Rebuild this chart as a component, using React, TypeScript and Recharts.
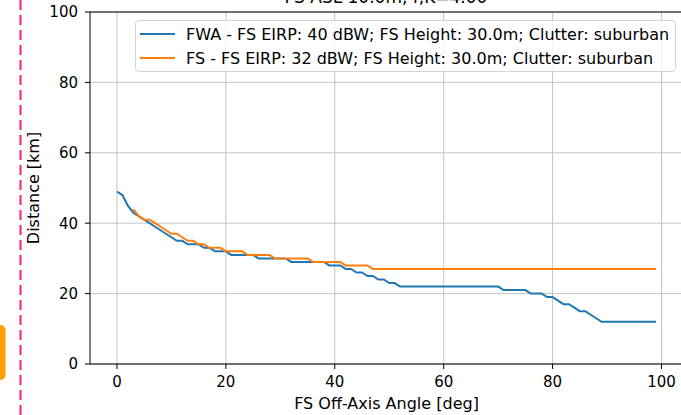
import {
  LineChart,
  Line,
  XAxis,
  YAxis,
  CartesianGrid,
  Legend,
  ReferenceLine,
} from 'recharts';

const angles = [
  0, 1, 2, 3, 4, 5, 6, 7, 8, 9, 10, 11, 12, 13, 14, 15, 16, 17, 18, 19,
  20, 21, 22, 23, 24, 25, 26, 27, 28, 29, 30, 31, 32, 33, 34, 35, 36, 37, 38, 39,
  40, 41, 42, 43, 44, 45, 46, 47, 48, 49, 50, 51, 52, 53, 54, 55, 56, 57, 58, 59,
  60, 61, 62, 63, 64, 65, 66, 67, 68, 69, 70, 71, 72, 73, 74, 75, 76, 77, 78, 79,
  80, 81, 82, 83, 84, 85, 86, 87, 88, 89, 90, 91, 92, 93, 94, 95, 96, 97, 98, 99,
];

const fwaDistance = [
  49, 48, 45, 43, 42, 41, 40, 39, 38, 37,
  36, 35, 35, 34, 34, 34, 33, 33, 32, 32,
  32, 31, 31, 31, 31, 31, 30, 30, 30, 30,
  30, 30, 29, 29, 29, 29, 29, 29, 29, 28,
  28, 28, 27, 27, 26, 26, 25, 25, 24, 24,
  23, 23, 22, 22, 22, 22, 22, 22, 22, 22,
  22, 22, 22, 22, 22, 22, 22, 22, 22, 22,
  22, 21, 21, 21, 21, 21, 20, 20, 20, 19,
  19, 18, 17, 17, 16, 15, 15, 14, 13, 12,
  12, 12, 12, 12, 12, 12, 12, 12, 12, 12,
];

const fsDistance = [
  null, null, null, 44, 42, 41, 41, 40, 39, 38,
  37, 37, 36, 35, 35, 34, 34, 33, 33, 33,
  32, 32, 32, 32, 31, 31, 31, 31, 31, 30,
  30, 30, 30, 30, 30, 30, 29, 29, 29, 29,
  29, 29, 28, 28, 28, 28, 28, 27, 27, 27,
  27, 27, 27, 27, 27, 27, 27, 27, 27, 27,
  27, 27, 27, 27, 27, 27, 27, 27, 27, 27,
  27, 27, 27, 27, 27, 27, 27, 27, 27, 27,
  27, 27, 27, 27, 27, 27, 27, 27, 27, 27,
  27, 27, 27, 27, 27, 27, 27, 27, 27, 27,
];

const xTicks = [0, 20, 40, 60, 80, 100];
const yTicks = [0, 20, 40, 60, 80, 100];

const series = [
  { key: 'fwa', color: '#1f77b4', label: 'FWA - FS EIRP: 40 dBW; FS Height: 30.0m; Clutter: suburban' },
  { key: 'fs', color: '#ff7f0e', label: 'FS - FS EIRP: 32 dBW; FS Height: 30.0m; Clutter: suburban' },
];

const data = angles.map((a, i) => ({ angle: a, fwa: fwaDistance[i], fs: fsDistance[i] }));

const FONT = '"DejaVu Sans", sans-serif';
const tick = { fontSize: 15, fill: '#000', fontFamily: FONT };
const labelStyle = { fontSize: 16, fill: '#000', fontFamily: FONT };

function LegendBox() {
  return (
    <div
      style={{
        boxSizing: 'border-box',
        height: 52,
        border: '1px solid #d4d4d4',
        borderRadius: 4,
        background: 'rgba(255,255,255,0.8)',
        padding: '1px 6px 1px 4px',
        fontFamily: FONT,
        fontSize: 16,
        color: '#000',
        whiteSpace: 'nowrap',
      }}
    >
      {series.map((s) => (
        <div key={s.key} style={{ display: 'flex', alignItems: 'center', height: 24 }}>
          <svg width={35} height={4} style={{ marginRight: 11, flexShrink: 0 }}>
            <line x1={0} y1={2} x2={35} y2={2} stroke={s.color} strokeWidth={2} />
          </svg>
          <span>{s.label}</span>
        </div>
      ))}
    </div>
  );
}

export default function App() {
  return (
    <div style={{ position: 'fixed', left: 0, top: 0, width: 681, height: 415, overflow: 'hidden', background: '#fff' }}>
      <LineChart width={720} height={415} data={data} margin={{ top: 12, right: 37, bottom: 0, left: 0 }}>
        <CartesianGrid stroke="#c4c4c4" strokeWidth={1} horizontalValues={yTicks} verticalValues={xTicks} />
        <XAxis
          dataKey="angle"
          type="number"
          domain={[-4.95, 103.95]}
          ticks={xTicks}
          height={51}
          tick={tick}
          tickSize={5}
          tickMargin={7}
          stroke="#000"
          allowDataOverflow
          label={{ value: 'FS Off-Axis Angle [deg]', position: 'insideBottom', offset: 6, style: labelStyle }}
        />
        <YAxis
          type="number"
          domain={[0, 100]}
          ticks={yTicks}
          width={90}
          tick={tick}
          tickSize={5}
          tickMargin={7}
          stroke="#000"
          allowDataOverflow
          label={{ value: 'Distance [km]', angle: -90, position: 'insideLeft', offset: 33, style: { ...labelStyle, textAnchor: 'middle' } }}
        />
        <ReferenceLine y={100} stroke="#000" strokeWidth={1} />
        <ReferenceLine x={103.95} stroke="#000" strokeWidth={1} />
        {series.map((s) => (
          <Line
            key={s.key}
            type="linear"
            dataKey={s.key}
            stroke={s.color}
            strokeWidth={2}
            dot={false}
            name={s.label}
            isAnimationActive={false}
          />
        ))}
        <Legend
          layout="vertical"
          align="center"
          verticalAlign="middle"
          content={() => <LegendBox />}
          wrapperStyle={{ position: 'absolute', top: 20, left: 135, width: 541 }}
        />
      </LineChart>
      <svg width={681} height={415} style={{ position: 'absolute', left: 0, top: 0, pointerEvents: 'none' }}>
        <line x1={20.5} y1={0} x2={20.5} y2={415} stroke="#ff1f78" strokeWidth={2} strokeDasharray="10 5" />
        <rect x={-10} y={325} width={15.5} height={55} rx={5} fill="#ffa000" />
        <text x={386} y={3} textAnchor="middle" fontSize={17} fontFamily={FONT} fill="#000">
          FS ASL 10.0m, f,K=4.00
        </text>
      </svg>
    </div>
  );
}
